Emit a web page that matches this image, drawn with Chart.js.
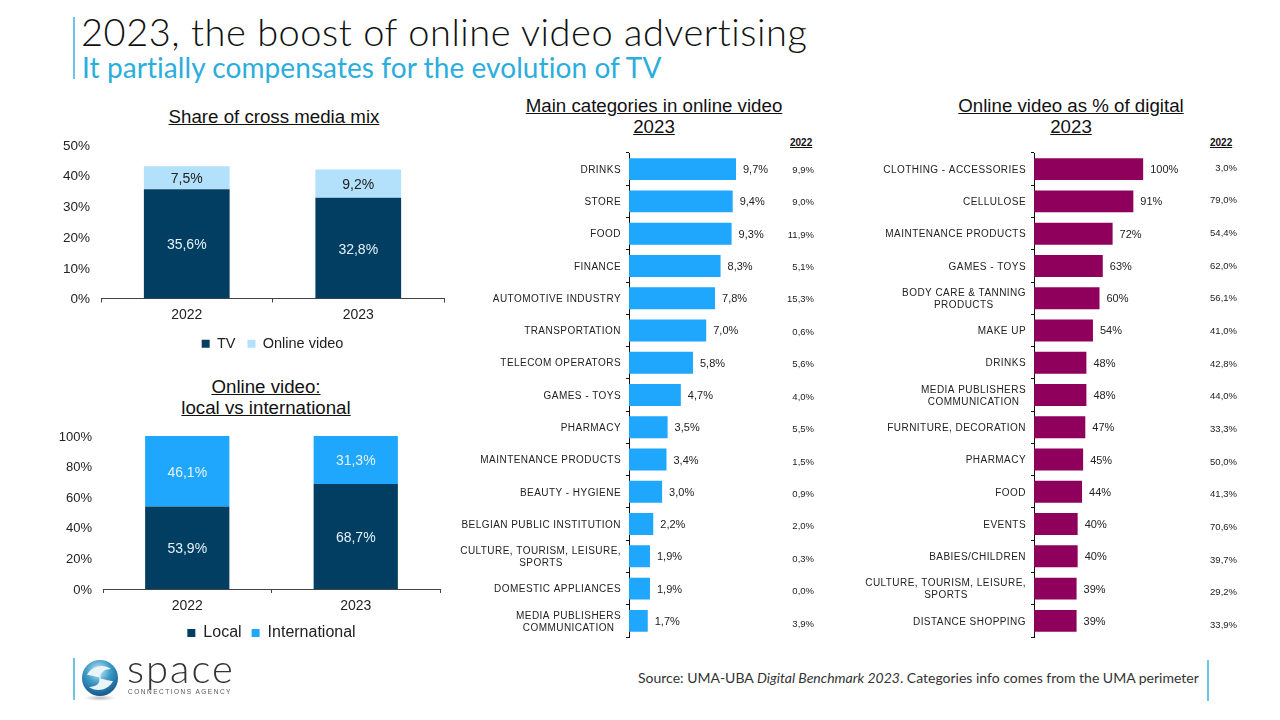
<!DOCTYPE html>
<html>
<head>
<meta charset="utf-8">
<title>2023, the boost of online video advertising</title>
<script src="https://cdn.jsdelivr.net/npm/chart.js@4"></script>
<style>
  html, body { margin: 0; padding: 0; background: #fff; }
  #page { position: relative; width: 1280px; height: 720px; overflow: hidden; font-family: "Liberation Sans", Arial, sans-serif; color: #111; }
  #page canvas { position: absolute; }
  .txt { position: absolute; white-space: nowrap; }
  .rule { position: absolute; width: 2px; background: #6cc5e6; }
  .chart-title { text-align: center; font-size: 18.7px; line-height: 21px; text-decoration: underline; }
  .year-head { font-size: 10px; font-weight: bold; text-decoration: underline; }
  .head { font-family: Lato, sans-serif; }
</style>
</head>
<body>
<div id="page">
  <div class="rule" style="left:72.5px;top:17px;height:62px"></div>
  <div class="txt head" style="left:81px;top:9px;font-size:38px;line-height:44px;font-weight:300;letter-spacing:0.53px;color:#111">2023, the boost of online video advertising</div>
  <div class="txt head" style="left:82px;top:50px;font-size:28px;line-height:34px;letter-spacing:0.08px;color:#2baddd">It partially compensates for the evolution of TV</div>

  <div class="txt chart-title" style="left:124px;top:106px;width:300px">Share of cross media mix</div>
  <div class="txt chart-title" style="left:116px;top:376px;width:300px">Online video:<br>local vs international</div>
  <div class="txt chart-title" style="left:504px;top:95px;width:300px">Main categories in online video<br>2023</div>
  <div class="txt chart-title" style="left:921px;top:95px;width:300px">Online video as % of digital<br>2023</div>
  <div class="txt year-head" style="left:790px;top:137px">2022</div>
  <div class="txt year-head" style="left:1210px;top:137px">2022</div>

  <canvas id="mixChart" style="left:50px;top:130px" width="445" height="231"></canvas>
  <canvas id="localChart" style="left:50px;top:421px" width="443" height="230"></canvas>
  <canvas id="categoryChart" style="left:450px;top:145px" width="380" height="500"></canvas>
  <canvas id="digitalChart" style="left:850px;top:145px" width="400" height="500"></canvas>

  <div class="rule" style="left:72.5px;top:658px;height:42px"></div>
  <svg style="position:absolute;left:80px;top:656px" width="40" height="46" viewBox="0 0 40 46">
    <defs>
      <radialGradient id="ball" cx="45%" cy="30%" r="75%">
        <stop offset="0" stop-color="#d6ecf5"/>
        <stop offset="0.45" stop-color="#3f9cc9"/>
        <stop offset="1" stop-color="#0f4f86"/>
      </radialGradient>
      <radialGradient id="shade"><stop offset="0" stop-color="#bbb"/><stop offset="1" stop-color="#fff"/></radialGradient>
    </defs>
    <ellipse cx="20" cy="42" rx="16" ry="3" fill="url(#shade)"/>
    <circle cx="20" cy="22" r="18" fill="url(#ball)"/>
    <path d="M7 19 C12 9 24 8 31 13 C24 13 19 17 21 22 C14 20 10 19 7 19 Z" fill="#eaf5fa"/>
    <path d="M33 25 C28 35 16 36 9 31 C16 31 21 27 19 22 C26 24 30 25 33 25 Z" fill="#eaf5fa"/>
  </svg>
  <div class="txt" style="left:127px;top:646px;font-family:Lato,sans-serif;font-weight:300;font-size:40px;line-height:44px;letter-spacing:2px;color:#333">space</div>
  <div class="txt" style="left:128px;top:688px;font-size:6.5px;line-height:8px;letter-spacing:1.5px;color:#555">CONNECTIONS AGENCY</div>
  <div class="txt" style="left:638px;top:670px;font-family:Lato,sans-serif;font-size:14px;line-height:16px;color:#333">Source: UMA-UBA <i>Digital Benchmark 2023</i>. Categories info comes from the UMA perimeter</div>
  <div class="rule" style="left:1206.5px;top:660px;height:41px"></div>
</div>

<script>
const mixYears = ['2022', '2023'];
const mixTv = [35.6, 32.8];
const mixOnlineVideo = [7.5, 9.2];

const originYears = ['2022', '2023'];
const originLocal = [53.9, 68.7];
const originInternational = [46.1, 31.3];

const videoCategories = [
  'DRINKS', 'STORE', 'FOOD', 'FINANCE', 'AUTOMOTIVE INDUSTRY', 'TRANSPORTATION',
  'TELECOM OPERATORS', 'GAMES - TOYS', 'PHARMACY', 'MAINTENANCE PRODUCTS',
  'BEAUTY - HYGIENE', 'BELGIAN PUBLIC INSTITUTION',
  ['CULTURE, TOURISM, LEISURE,', 'SPORTS'], 'DOMESTIC APPLIANCES',
  ['MEDIA PUBLISHERS', 'COMMUNICATION']
];
const videoShare2023 = [9.7, 9.4, 9.3, 8.3, 7.8, 7.0, 5.8, 4.7, 3.5, 3.4, 3.0, 2.2, 1.9, 1.9, 1.7];
const videoShare2022 = [9.9, 9.0, 11.9, 5.1, 15.3, 0.6, 5.6, 4.0, 5.5, 1.5, 0.9, 2.0, 0.3, 0.0, 3.9];

const digitalCategories = [
  'CLOTHING - ACCESSORIES', 'CELLULOSE', 'MAINTENANCE PRODUCTS', 'GAMES - TOYS',
  ['BODY CARE & TANNING', 'PRODUCTS'], 'MAKE UP', 'DRINKS',
  ['MEDIA PUBLISHERS', 'COMMUNICATION'], 'FURNITURE, DECORATION', 'PHARMACY',
  'FOOD', 'EVENTS', 'BABIES/CHILDREN', ['CULTURE, TOURISM, LEISURE,', 'SPORTS'],
  'DISTANCE SHOPPING'
];
const digitalShare2023 = [100, 91, 72, 63, 60, 54, 48, 48, 47, 45, 44, 40, 40, 39, 39];
const digitalShare2022 = [3.0, 79.0, 54.4, 62.0, 56.1, 41.0, 42.8, 44.0, 33.3, 50.0, 41.3, 70.6, 39.7, 29.2, 33.9];

const FONT = '"Liberation Sans", Arial, sans-serif';
const SPACING = '0.45px';
const comma = v => v.toFixed(1).replace('.', ',') + '%';

// scales must not push the plot area around with half a label of padding
const noPadding = s => { s.paddingTop = s.paddingBottom = s.paddingLeft = s.paddingRight = 0; };

// labels in the middle of the stacked segments
const stackLabels = {
  id: 'stackLabels',
  afterDatasetsDraw(chart, args, opts) {
    const ctx = chart.ctx;
    ctx.save();
    ctx.font = `14px ${FONT}`;
    ctx.textAlign = 'center';
    ctx.textBaseline = 'middle';
    chart.data.datasets.forEach((ds, i) => {
      ctx.fillStyle = opts.colors[i];
      chart.getDatasetMeta(i).data.forEach((bar, j) => {
        const p = bar.getCenterPoint();
        ctx.fillText(comma(ds.data[j]), p.x, p.y + 1.5);
      });
    });
    ctx.restore();
  }
};

// label after each bar, plus the 2022 column on the right
const rowLabels = {
  id: 'rowLabels',
  beforeDraw(chart) {
    chart.ctx.letterSpacing = SPACING;
  },
  afterDatasetsDraw(chart, args, opts) {
    const ctx = chart.ctx;
    const yScale = chart.scales.y;
    ctx.save();
    ctx.letterSpacing = '0px';
    ctx.textBaseline = 'middle';
    ctx.fillStyle = '#222';
    chart.getDatasetMeta(0).data.forEach((bar, i) => {
      ctx.font = `11px ${FONT}`;
      ctx.textAlign = 'left';
      ctx.fillText(opts.format(chart.data.datasets[0].data[i]), bar.x + 7, bar.y + 1);
      ctx.font = `9.5px ${FONT}`;
      ctx.textAlign = 'right';
      // the 2022 column runs a little looser than the rows in the original
      ctx.fillText(comma(opts.previous[i]), opts.columnX, yScale.getPixelForValue(i * opts.columnSpread) + opts.columnDy);
    });
    ctx.restore();
  }
};

// keep the lines of a two line label centred on each other
const measure = document.createElement('canvas').getContext('2d');
function centredLines(value) {
  const label = this.getLabelForValue(value);
  if (!Array.isArray(label)) return label;
  measure.font = `10px ${FONT}`;
  measure.letterSpacing = SPACING;
  const widths = label.map(l => measure.measureText(l).width);
  const widest = Math.max(...widths);
  const space = measure.measureText('\u00A0').width;
  return label.map((l, i) => l + '\u00A0'.repeat(Math.round((widest - widths[i]) / 2 / space)));
}

function stackedChart(id, labels, series, yMax, yStep, opt) {
  return new Chart(document.getElementById(id), {
    type: 'bar',
    data: {
      labels,
      datasets: series.map(s => ({
        label: s.label, data: s.data, backgroundColor: s.color,
        barPercentage: 0.5, categoryPercentage: 1
      }))
    },
    plugins: [stackLabels],
    options: {
      responsive: false,
      animation: false,
      layout: { padding: { top: opt.top, right: opt.side } },
      plugins: {
        tooltip: { enabled: false },
        legend: {
          position: 'bottom',
          fullSize: false,
          labels: { boxWidth: 8, boxHeight: 8, padding: opt.legendGap, color: '#222', font: { family: FONT, size: opt.legendSize } }
        },
        stackLabels: { colors: series.map(s => s.textColor) }
      },
      scales: {
        x: {
          stacked: true,
          afterFit: s => { s.height = opt.xHeight; noPadding(s); },
          border: { color: '#444' },
          grid: { drawOnChartArea: false, tickLength: 4, color: '#444' },
          ticks: { color: '#222', padding: opt.xPad, font: { family: FONT, size: 14 } }
        },
        y: {
          stacked: true,
          min: 0,
          max: yMax,
          afterFit: s => { s.width = opt.side; noPadding(s); },
          border: { display: false },
          grid: { display: false },
          ticks: { stepSize: yStep, color: '#222', padding: 3, labelOffset: 1, font: { family: FONT, size: opt.tickSize }, callback: v => v + '%' }
        }
      }
    }
  });
}

function rowChart(id, labels, values, previous, color, xMax, opt) {
  return new Chart(document.getElementById(id), {
    type: 'bar',
    data: { labels, datasets: [{ data: values, backgroundColor: color, barPercentage: 0.68, categoryPercentage: 1 }] },
    plugins: [rowLabels],
    options: {
      indexAxis: 'y',
      responsive: false,
      animation: false,
      layout: { padding: { top: 8, bottom: 8, right: opt.right } },
      plugins: {
        legend: { display: false },
        tooltip: { enabled: false },
        rowLabels: { previous, columnX: opt.columnX, columnDy: opt.columnDy, columnSpread: opt.columnSpread, format: opt.format }
      },
      scales: {
        x: { display: false, min: 0, max: xMax },
        y: {
          afterFit: s => { s.width = opt.left; noPadding(s); },
          border: { color: '#111' },
          grid: { drawOnChartArea: false, tickLength: 3, color: '#111' },
          ticks: { autoSkip: false, color: '#222', padding: 5, labelOffset: 1, font: { family: FONT, size: 10 }, callback: centredLines }
        }
      }
    }
  });
}

document.addEventListener('DOMContentLoaded', () => {
  stackedChart('mixChart', mixYears, [
    { label: 'TV', data: mixTv, color: '#023e62', textColor: '#e6f2fa' },
    { label: 'Online video', data: mixOnlineVideo, color: '#b3e0fb', textColor: '#222' }
  ], 50, 10, { top: 15, side: 51, xHeight: 26, xPad: 4, legendGap: 12, legendSize: 14.5, tickSize: 13.5 });

  stackedChart('localChart', originYears, [
    { label: 'Local', data: originLocal, color: '#023e62', textColor: '#e6f2fa' },
    { label: 'International', data: originInternational, color: '#1ea7fd', textColor: '#e6f2fa' }
  ], 100, 20, { top: 15, side: 53, xHeight: 26, xPad: 5, legendGap: 10, legendSize: 16, tickSize: 13 });

  rowChart('categoryChart', videoCategories, videoShare2023, videoShare2022, '#1ea7fd', 16,
    { left: 179, right: 24.5, columnX: 364, columnDy: 0.9, columnSpread: 1.005, format: comma });

  rowChart('digitalChart', digitalCategories, digitalShare2023, digitalShare2022, '#8e005c', 120,
    { left: 184, right: 85, columnX: 387, columnDy: -1.1, columnSpread: 1.0127, format: v => v + '%' });
});
</script>
</body>
</html>
